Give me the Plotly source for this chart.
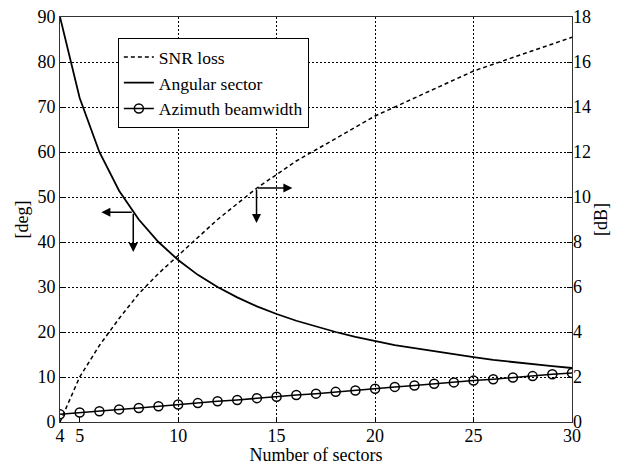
import plotly.graph_objects as go

sectors = list(range(4, 31))
angular_sector = [90.0, 72.0, 60.0, 51.4, 45.0, 40.0, 36.0, 32.7, 30.0, 27.7, 25.7, 24.0,
                  22.5, 21.2, 20.0, 18.9, 18.0, 17.1, 16.4, 15.7, 15.0, 14.4, 13.8, 13.3,
                  12.9, 12.4, 12.0]
azimuth_beamwidth = [1.7, 2.1, 2.4, 2.8, 3.1, 3.5, 3.9, 4.2, 4.6, 4.9, 5.3, 5.6, 6.0, 6.3,
                     6.7, 7.0, 7.4, 7.8, 8.1, 8.5, 8.8, 9.2, 9.5, 9.9, 10.2, 10.6, 10.9]
snr_loss_db = [0.0, 2.0, 3.4, 4.6, 5.7, 6.6, 7.4, 8.2, 9.0, 9.7, 10.4, 11.0, 11.6, 12.1,
               12.6, 13.1, 13.6, 14.0, 14.4, 14.8, 15.2, 15.6, 15.9, 16.2, 16.5, 16.8, 17.1]

x_ticks = [4, 5, 10, 15, 20, 25, 30]
x_grid = [10, 15, 20, 25]
y_left_ticks = list(range(0, 91, 10))
y_right_ticks = list(range(0, 19, 2))

FONT = "Liberation Serif"
fig = go.Figure()

fig.add_trace(go.Scatter(x=sectors, y=snr_loss_db, name="SNR loss", mode="lines",
                         line=dict(color="black", width=1.5, dash="4px,3px"),
                         yaxis="y2", xaxis="x"))
fig.add_trace(go.Scatter(x=sectors, y=angular_sector, name="Angular sector", mode="lines",
                         line=dict(color="black", width=1.8)))
fig.add_trace(go.Scatter(x=sectors, y=azimuth_beamwidth, name="Azimuth beamwidth",
                         mode="lines+markers",
                         line=dict(color="black", width=1.5),
                         marker=dict(symbol="circle-open", size=9, color="black",
                                     line=dict(width=1.5, color="black"))))
# invisible trace to activate grid axis
fig.add_trace(go.Scatter(x=[4, 30], y=[0, 0], xaxis="x2", yaxis="y",
                         mode="lines", line=dict(width=0), showlegend=False,
                         hoverinfo="skip"))

axis_font = dict(family=FONT, size=18, color="black")

fig.update_layout(
    width=617, height=465,
    margin=dict(l=60, r=45, t=17, b=43, autoexpand=False),
    paper_bgcolor="white", plot_bgcolor="white",
    font=axis_font,
    xaxis=dict(range=[4, 30], tickvals=x_ticks, showgrid=False, ticks="inside",
               ticklen=5, tickcolor="black", showline=True, linecolor="#333",
               linewidth=1, mirror=True, zeroline=False, automargin=False,
               ticklabelstandoff=-3,
               title=dict(text="Number of sectors", standoff=0, font=axis_font),
               tickfont=axis_font),
    xaxis2=dict(range=[4, 30], tickvals=x_grid, overlaying="x", showgrid=True,
                gridcolor="black", griddash="2px,2px", gridwidth=1,
                showticklabels=False, ticks="", showline=False, zeroline=False,
                matches="x", automargin=False),
    yaxis=dict(range=[0, 90], tickvals=y_left_ticks, showgrid=True, gridcolor="black",
               griddash="2px,2px", gridwidth=1, ticks="inside", ticklen=5,
               tickcolor="black", showline=True, linecolor="#333", linewidth=1,
               mirror=True, zeroline=False, automargin=False,
               title=dict(text="[deg]", standoff=4, font=axis_font), tickfont=axis_font),
    yaxis2=dict(range=[0, 18], tickvals=y_right_ticks, overlaying="y", side="right",
                showgrid=False, ticks="inside", ticklen=5, tickcolor="black",
                showline=False, zeroline=False, automargin=False,
                title=dict(text="[dB]", standoff=4, font=axis_font), tickfont=axis_font),
    legend=dict(x=0.113, y=0.948, xanchor="left", yanchor="top",
                bgcolor="white", bordercolor="black", borderwidth=1,
                font=dict(family=FONT, size=17.5, color="black"),
                tracegroupgap=0, itemwidth=30),
    showlegend=True,
)

arrow = dict(showarrow=True, arrowhead=2, arrowsize=1.2, arrowwidth=1.5,
             arrowcolor="black", text="", axref="x", ayref="y", xref="x", yref="y")
# left arrows (angular sector -> left axis)
fig.add_annotation(x=6.1, y=46.6, ax=7.72, ay=46.6, **arrow)
fig.add_annotation(x=7.72, y=37.8, ax=7.72, ay=46.6, **arrow)
# right arrows (SNR loss -> right axis)
fig.add_annotation(x=15.8, y=52.0, ax=13.98, ay=52.0, **arrow)
fig.add_annotation(x=13.98, y=44.2, ax=13.98, ay=52.0, **arrow)

fig.write_html("out.html")
